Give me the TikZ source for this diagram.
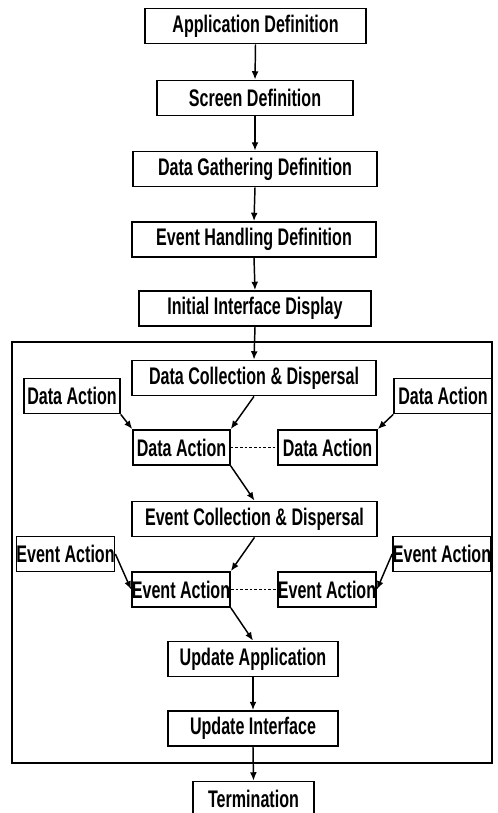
\documentclass[tikz,border=0pt]{standalone}
\usepackage{fontspec}
\newfontfamily\flowfont{Liberation Sans}[FakeStretch=0.67]
\usetikzlibrary{arrows.meta}
\begin{document}
\begin{tikzpicture}[x=0.75pt, y=-0.75pt, >={Latex[length=2.2mm, width=1.8mm]},
	every node/.style={font=\flowfont\bfseries\fontsize{18}{18}\selectfont},
	stage/.style={draw, line width=1.1pt, inner sep=0pt, minimum height=26.5pt, minimum width=#1*0.75pt},
	link/.style={->, line width=1.1pt},
	gap/.style={line width=0.8pt, dash pattern=on 2pt off 1.5pt}]
	\useasboundingbox (0,0) rectangle (498,813);
	\node[stage=221] (appdef) at (255.5,26) {Application Definition};
	\node[stage=196] (scrdef) at (255,98) {Screen Definition};
	\node[stage=244] (gathdef) at (255,169) {Data Gathering Definition};
	\node[stage=244] (evdef) at (254,239.5) {Event Handling Definition};
	\node[stage=232] (initdisp) at (255,308.5) {Initial Interface Display};
	\draw[line width=1.5pt] (12,342) rectangle (492,763);
	\node[stage=244] (datacol) at (254,378) {Data Collection \& Dispersal};
	\node[stage=96] (dactA) at (72,396) {Data Action};
	\node[stage=98] (dactB) at (443,396) {Data Action};
	\node[stage=97] (dactC) at (181.5,447.5) {Data Action};
	\node[stage=99] (dactD) at (327.5,447.5) {Data Action};
	\node[stage=245] (evcol) at (254.5,519) {Event Collection \& Dispersal};
	\node[stage=97] (eactA) at (65.5,554) {Event Action};
	\node[stage=98] (eactB) at (442,554) {Event Action};
	\node[stage=98] (eactC) at (181,589.5) {Event Action};
	\node[stage=98] (eactD) at (327,589.5) {Event Action};
	\node[stage=170] (updapp) at (253,659) {Update Application};
	\node[stage=170] (updint) at (253,728.5) {Update Interface};
	\node[stage=121] (term) at (253.5,799) {Termination};
	\draw[link] (appdef.south) -- (scrdef.north);
	\draw[link] (scrdef.south) -- (gathdef.north);
	\draw[link] (gathdef.south) -- (evdef.north);
	\draw[link] (evdef.south) -- (initdisp.north);
	\draw[link] (initdisp.south) -- (datacol.north);
	\draw[link] (datacol.south) -- (dactC.north east);
	\draw[link] (dactA.south east) -- (dactC.north west);
	\draw[link] (dactB.south west) -- (dactD.north east);
	\draw[gap] (dactC) -- (dactD);
	\draw[link] (dactC.south east) -- (evcol.north);
	\draw[link] (evcol.south) -- (eactC.north east);
	\draw[link] (eactA.east) -- (eactC.west);
	\draw[link] (eactB.west) -- (eactD.east);
	\draw[gap] (eactC) -- (eactD);
	\draw[link] (eactC.south east) -- (updapp.north);
	\draw[link] (updapp.south) -- (updint.north);
	\draw[link] (updint.south) -- (term.north);
\end{tikzpicture}
\end{document}
